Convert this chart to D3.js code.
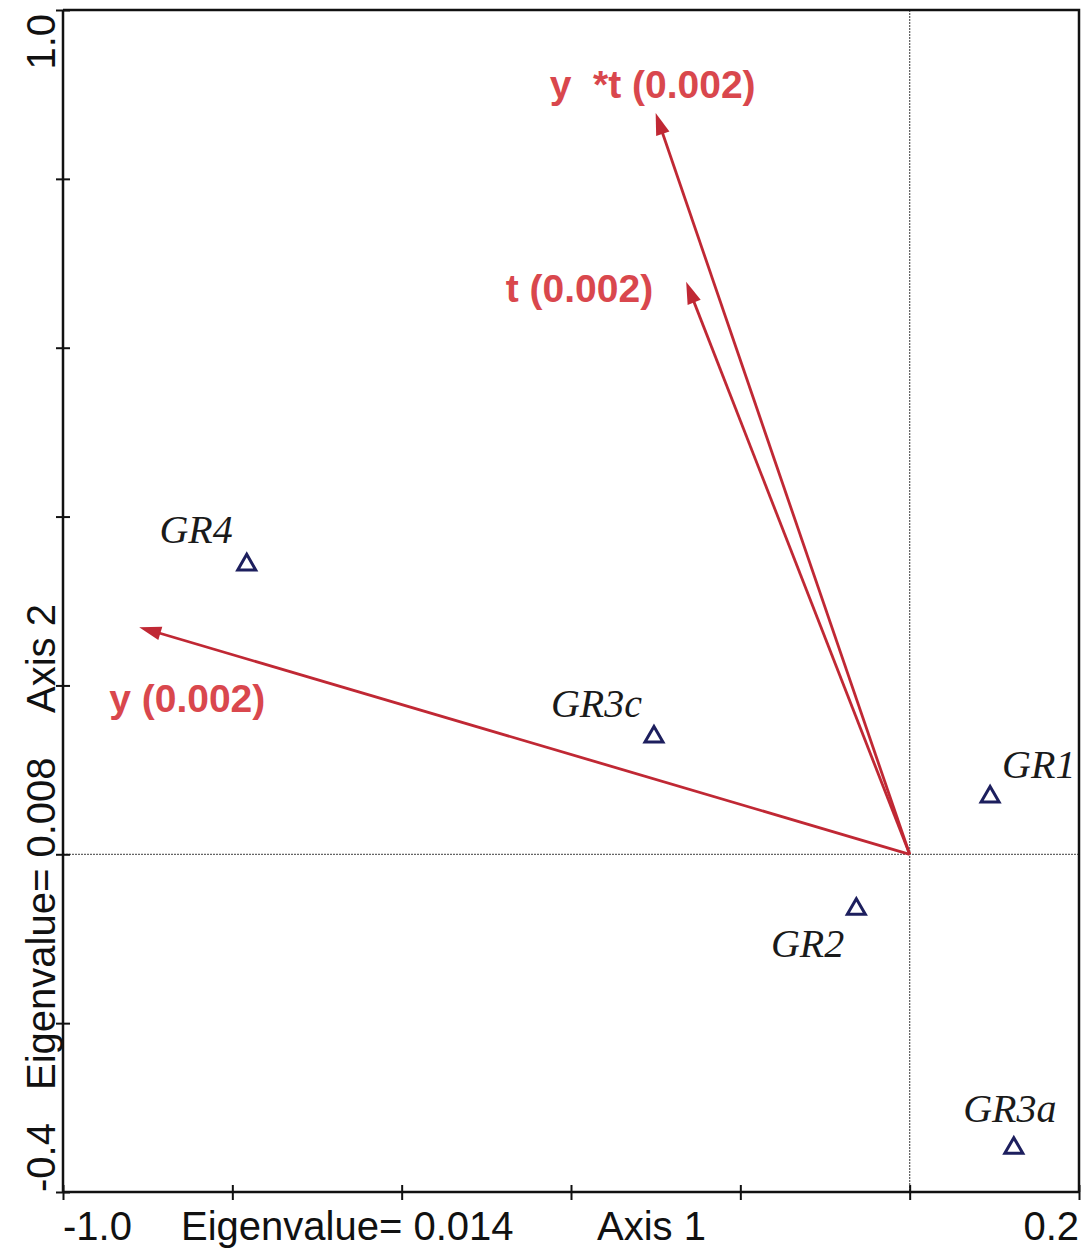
<!DOCTYPE html>
<html><head><meta charset="utf-8">
<script src="https://cdn.jsdelivr.net/npm/d3@7"></script>
<style>
html,body{margin:0;padding:0;background:#fff;}
svg{display:block;}
</style></head>
<body>
<svg id="chart" width="1085" height="1255"></svg>
<script>
// ---- data ----
const sampleNames = ["GR4", "GR3c", "GR1", "GR2", "GR3a"];
const sampleAxis1 = [-0.783, -0.302, 0.095, -0.063, 0.123];
const sampleAxis2 = [0.343, 0.139, 0.068, -0.065, -0.348];

const vectorNames = ["y  *t (0.002)", "t (0.002)", "y (0.002)"];
const vectorAxis1 = [-0.300, -0.264, -0.910];
const vectorAxis2 = [0.878, 0.678, 0.269];

const xTicks = [-1.0, -0.8, -0.6, -0.4, -0.2, 0.0, 0.2];
const yTicks = [1.0, 0.8, 0.6, 0.4, 0.2, 0.0, -0.2, -0.4];
const xLabels = ["-1.0", "Eigenvalue= 0.014", "Axis 1", "0.2"];
const yLabels = ["-0.4", "Eigenvalue= 0.008", "Axis 2", "1.0"];

// ---- layout ----
const L = 63, R = 1079, T = 10, B = 1192;
const x = d3.scaleLinear().domain([-1.0, 0.2]).range([L, R]);
const y = d3.scaleLinear().domain([1.0, -0.4]).range([T, B]);

const svg = d3.select("#chart");
const sans = "'Liberation Sans', Arial, sans-serif";
const serif = "'Liberation Serif', 'Times New Roman', serif";
const lineRed = "#c02834";
const textRed = "#d9474d";
const navy = "#1d1f5e";

// zero reference lines
svg.append("line").attr("x1", x(0)).attr("x2", x(0)).attr("y1", T).attr("y2", B)
  .attr("stroke", "#666").attr("stroke-width", 1.3).attr("stroke-dasharray", "2,1");
svg.append("line").attr("x1", L).attr("x2", R).attr("y1", y(0)).attr("y2", y(0))
  .attr("stroke", "#666").attr("stroke-width", 1.3).attr("stroke-dasharray", "2,1");

// frame top / right
svg.append("path").attr("d", `M${L},${T}H${R}V${B}`).attr("fill", "none")
  .attr("stroke", "#111").attr("stroke-width", 2.5);

// axes
const xAxis = svg.append("g").attr("transform", `translate(0,${B})`)
  .call(d3.axisBottom(x).tickValues(xTicks).tickSize(8).tickFormat(""));
xAxis.select(".domain").attr("stroke", "#111").attr("stroke-width", 2.5).attr("d", `M${L},0H${R}`);
xAxis.selectAll(".tick line").attr("stroke", "#111").attr("stroke-width", 2).attr("y1", -7).attr("y2", 8);

const yAxis = svg.append("g").attr("transform", `translate(${L},0)`)
  .call(d3.axisLeft(y).tickValues(yTicks).tickSize(7).tickFormat(""));
yAxis.select(".domain").attr("stroke", "#111").attr("stroke-width", 2.5).attr("d", `M0,${T}V${B}`);
yAxis.selectAll(".tick line").attr("stroke", "#111").attr("stroke-width", 2).attr("x1", -7).attr("x2", 7);

// x-axis texts
const xLabPos = [[L, "start"], [181, "start"], [597, "start"], [R, "end"]];
xLabels.forEach((t, i) => {
  svg.append("text").attr("x", xLabPos[i][0]).attr("y", 1240)
    .attr("text-anchor", xLabPos[i][1]).attr("font-family", sans)
    .attr("font-size", 40).attr("fill", "#111").text(t);
});
// y-axis texts (rotated)
const yLabPos = [[B, "start"], [1090, "start"], [713, "start"], [T + 4, "end"]];
yLabels.forEach((t, i) => {
  svg.append("text").attr("transform", `translate(55,${yLabPos[i][0]}) rotate(-90)`)
    .attr("text-anchor", yLabPos[i][1]).attr("font-family", sans)
    .attr("font-size", 40).attr("fill", "#111").text(t);
});

// vectors
const vecLabelOff = [[-106, -15, "start"], [-33, 20, "end"], [-30, 85, "start"]];
vectorNames.forEach((name, i) => {
  const x0 = x(0), y0 = y(0), x1 = x(vectorAxis1[i]), y1 = y(vectorAxis2[i]);
  const ang = Math.atan2(y1 - y0, x1 - x0);
  const len = 22, hw = 7;
  const bx = x1 - len * Math.cos(ang), by = y1 - len * Math.sin(ang);
  svg.append("line").attr("x1", x0).attr("y1", y0).attr("x2", bx + 4 * Math.cos(ang)).attr("y2", by + 4 * Math.sin(ang))
    .attr("stroke", lineRed).attr("stroke-width", 2.8);
  const px = -Math.sin(ang), py = Math.cos(ang);
  svg.append("path")
    .attr("d", `M${x1},${y1}L${bx + hw * px},${by + hw * py}L${bx - hw * px},${by - hw * py}Z`)
    .attr("fill", lineRed);
  svg.append("text").attr("x", x1 + vecLabelOff[i][0]).attr("y", y1 + vecLabelOff[i][1])
    .attr("text-anchor", vecLabelOff[i][2]).attr("font-family", sans).attr("font-weight", "bold")
    .attr("font-size", 39).attr("fill", textRed).style("white-space", "pre").text(name);
});

// samples
const sampLabelOff = [[-14, -22, "end"], [-12, -20, "end"], [12, -19, "start"], [-12, 48, "end"], [-4, -26, "middle"]];
const tri = d3.symbol().type(d3.symbolTriangle).size(140);
sampleNames.forEach((name, i) => {
  const cx = x(sampleAxis1[i]), cy = y(sampleAxis2[i]);
  svg.append("path").attr("d", tri).attr("transform", `translate(${cx},${cy})`)
    .attr("fill", "none").attr("stroke", navy).attr("stroke-width", 3);
  svg.append("text").attr("x", cx + sampLabelOff[i][0]).attr("y", cy + sampLabelOff[i][1])
    .attr("text-anchor", sampLabelOff[i][2]).attr("font-family", serif).attr("font-style", "italic")
    .attr("font-size", 40).attr("fill", "#1a1a1a").text(name);
});
</script>
</body></html>
